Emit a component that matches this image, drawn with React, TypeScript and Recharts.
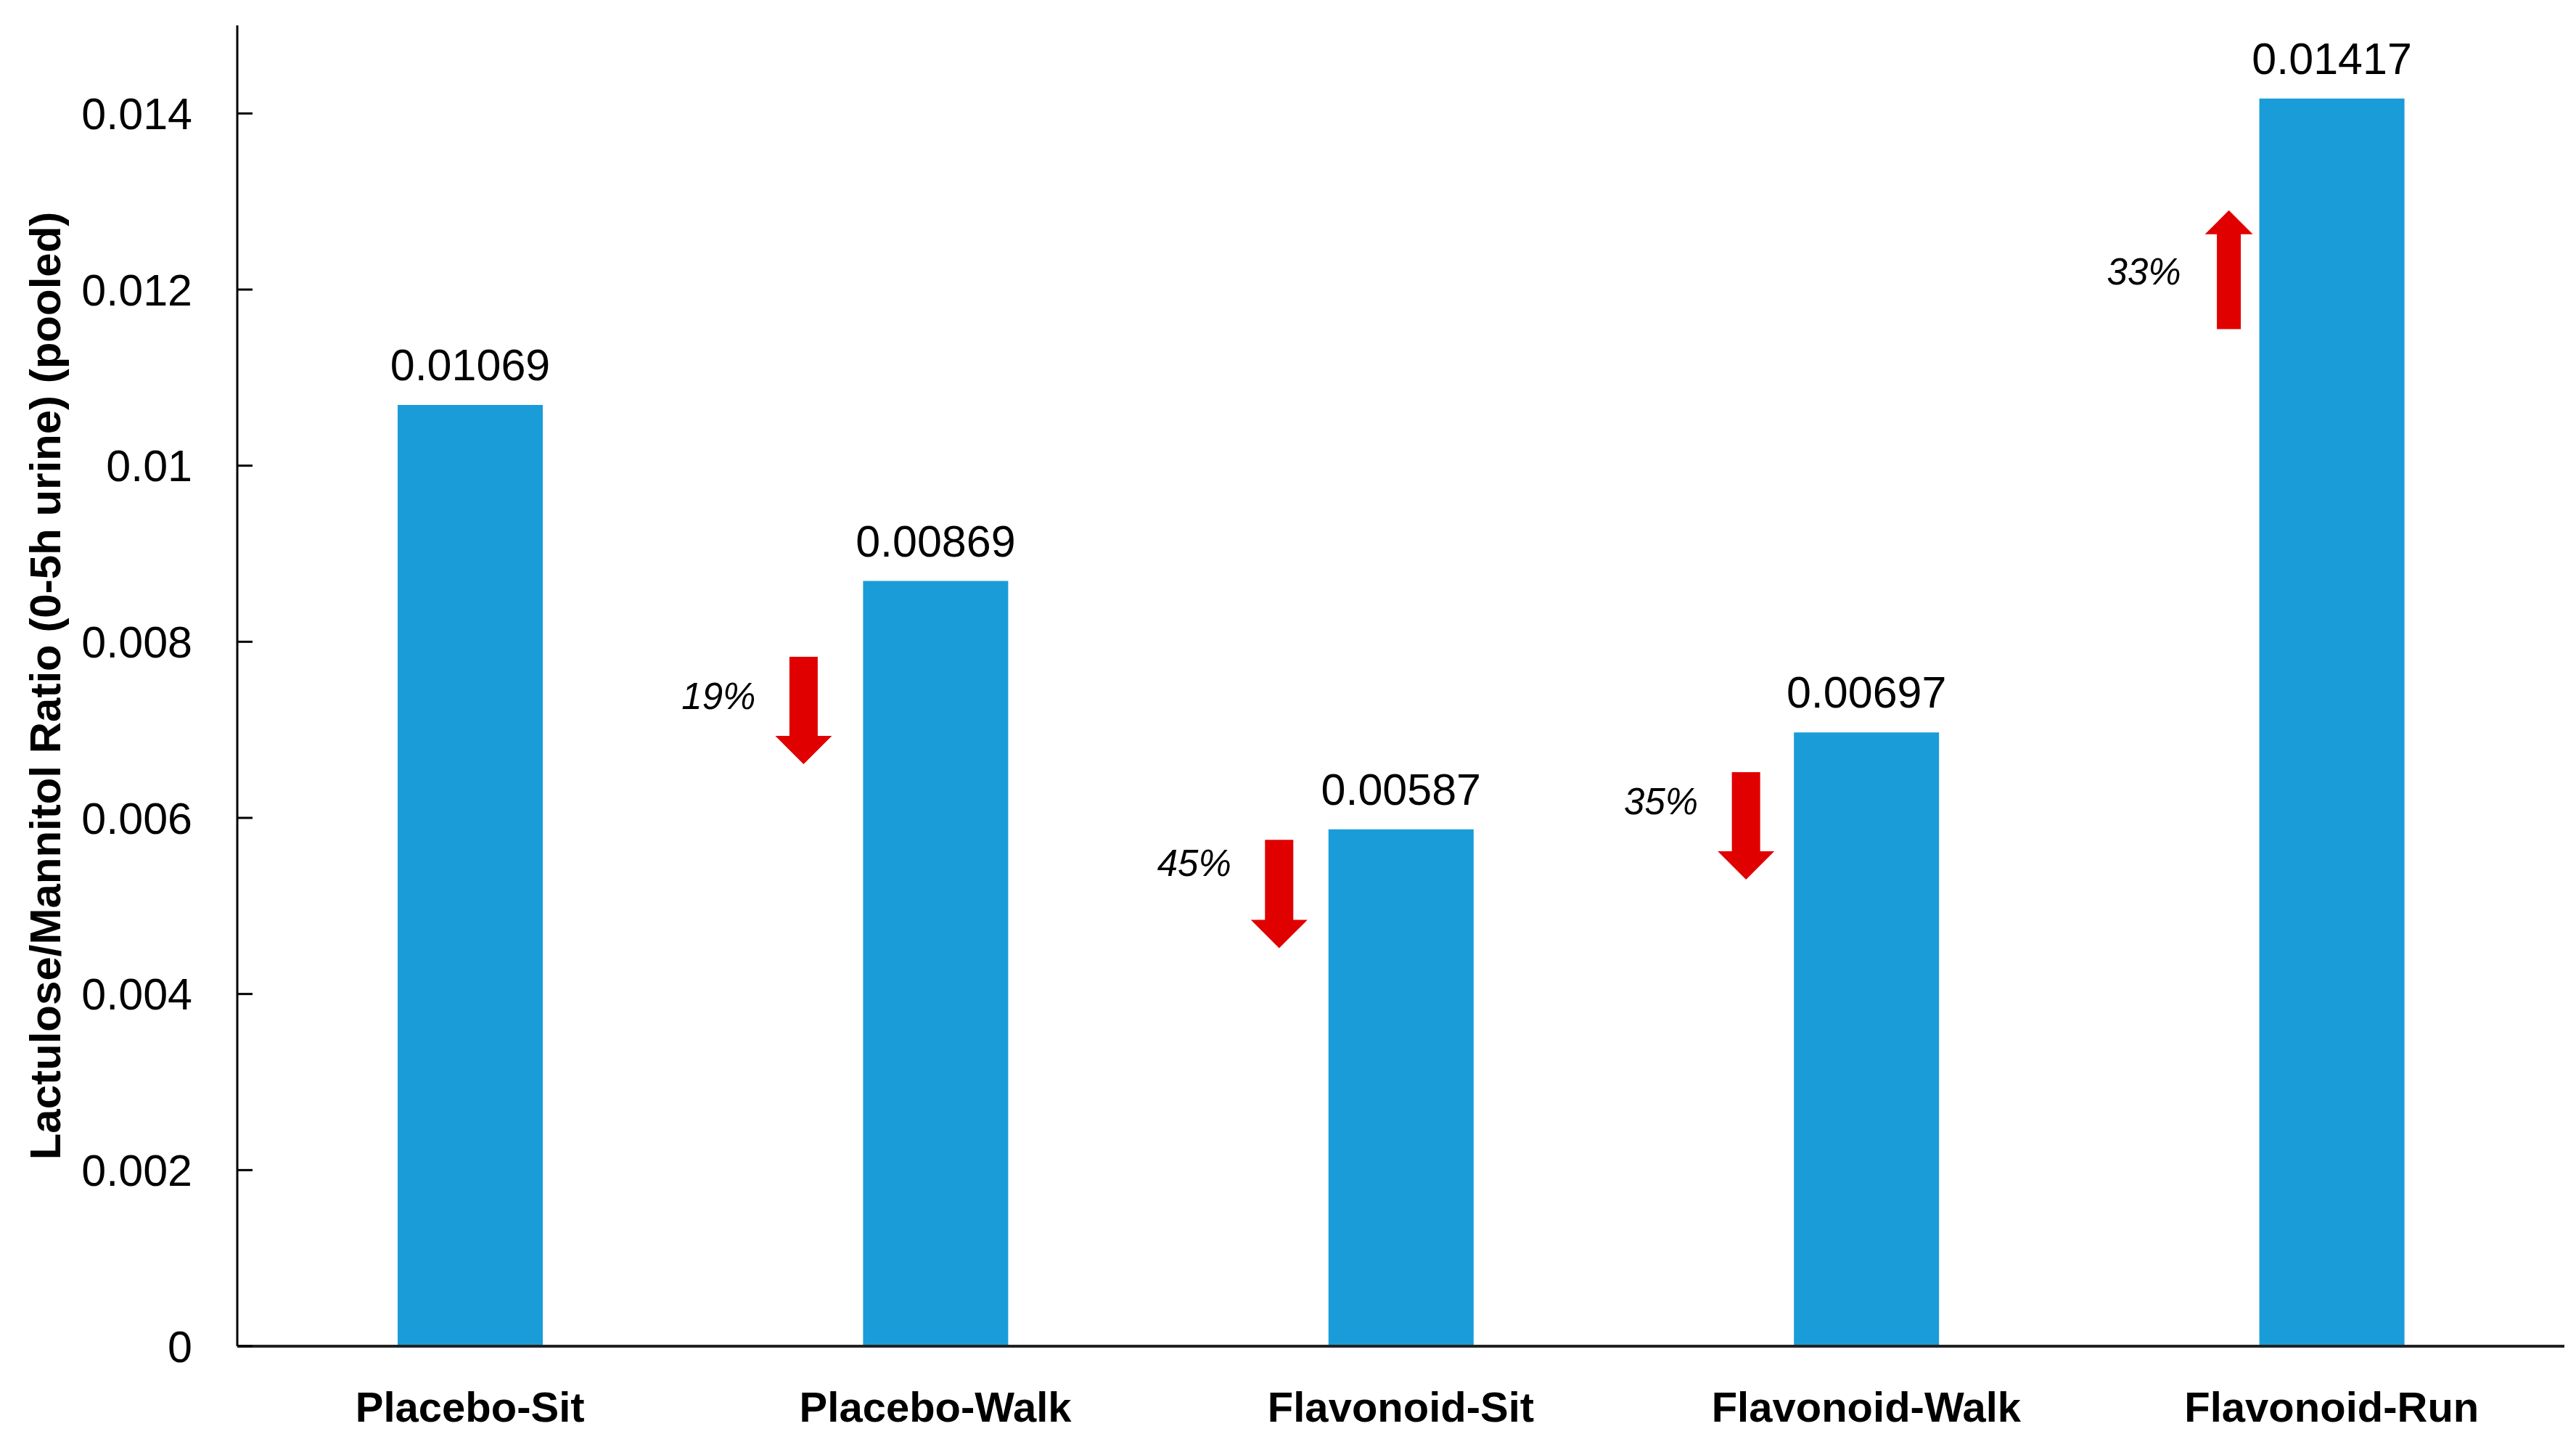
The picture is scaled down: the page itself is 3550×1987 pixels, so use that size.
import { BarChart, Bar, XAxis, YAxis, LabelList, Label } from "recharts"

const categories = ["Placebo-Sit", "Placebo-Walk", "Flavonoid-Sit", "Flavonoid-Walk", "Flavonoid-Run"]
const ratios = [0.01069, 0.00869, 0.00587, 0.00697, 0.01417]
const yTicks = [0, 0.002, 0.004, 0.006, 0.008, 0.01, 0.012, 0.014]

// change vs Placebo-Sit, drawn as red arrows next to the bars
const changeLabels = ["", "19%", "45%", "35%", "33%"]
const arrowTail = [null, 0.00783, 0.00575, 0.00652, 0.01155]
const arrowHead = [null, 0.00661, 0.00452, 0.0053, 0.0129]
const changeLabelAt = [null, 0.00724, 0.00534, 0.00604, 0.01206]

const data = categories.map((name, i) => ({ name, ratio: ratios[i] }))

const FONT = "'Liberation Sans', Arial, sans-serif"
const BLUE = "#1A9CD8"
const RED = "#E00000"
// gap between bar's left edge and the arrow centre
const ARROW_DX = [0, 82, 68, 66, 42]

function YTick(props: any) {
  const { x, y, payload } = props
  return (
    <g>
      <line x1={x + 62} x2={x + 83} y1={y} y2={y} stroke="#000" strokeWidth={3} />
      <text x={x} y={y} dy="0.355em" textAnchor="end" fontFamily={FONT} fontSize={61} fill="#000">
        {String(payload.value)}
      </text>
    </g>
  )
}

function ChangeArrow(props: any) {
  const vb = props.viewBox ?? props
  const { x, y, width, height } = vb
  const index = props.index
  const tail = arrowTail[index]
  const head = arrowHead[index]
  if (tail == null || head == null) return null
  const value = ratios[index]
  const base = y + height
  const toPx = (v: number) => base - (v * height) / value
  const yTail = toPx(tail)
  const yHead = toPx(head)
  const up = yHead < yTail
  const cx = x - ARROW_DX[index]
  const shaft = up ? 33 : 39
  const headW = up ? 66 : 78
  const headH = up ? 33 : 39
  const s = up ? -1 : 1
  const headBase = yHead - s * headH
  const pts = [
    [cx - shaft / 2, yTail],
    [cx + shaft / 2, yTail],
    [cx + shaft / 2, headBase],
    [cx + headW / 2, headBase],
    [cx, yHead],
    [cx - headW / 2, headBase],
    [cx - shaft / 2, headBase],
  ]
    .map((p) => p.join(","))
    .join(" ")
  return (
    <g>
      <polygon points={pts} fill={RED} />
      <text
        x={cx - 66}
        y={toPx(changeLabelAt[index] as number)}
        textAnchor="end"
        fontFamily={FONT}
        fontStyle="italic"
        fontSize={51}
        fill="#000"
      >
        {changeLabels[index]}
      </text>
    </g>
  )
}

export default function App() {
  return (
    <div style={{ width: 3550, height: 1987, background: "#fff" }}>
      <style>{"body{margin:0}"}</style>
      <BarChart
        width={3550}
        height={1987}
        data={data}
        margin={{ top: 35, right: 16, bottom: 0, left: 0 }}
        barCategoryGap="34%"
      >
        <XAxis
          dataKey="name"
          height={132}
          tickLine={false}
          tickSize={0}
          tickMargin={63}
          axisLine={{ stroke: "#222", strokeWidth: 4 }}
          tick={{ fontFamily: FONT, fontSize: 58, fontWeight: 700, fill: "#000" }}
        />
        <YAxis
          width={327}
          domain={[0, 0.015]}
          ticks={yTicks}
          interval={0}
          tickLine={false}
          tickSize={0}
          tickMargin={62}
          axisLine={{ stroke: "#000", strokeWidth: 3 }}
          tick={<YTick />}
        >
          <Label
            content={(p: any) => {
              const vb = p.viewBox
              const cx = 83
              const cy = vb.y + vb.height / 2
              return (
                <text
                  x={cx}
                  y={cy}
                  transform={`rotate(-90, ${cx}, ${cy})`}
                  textAnchor="middle"
                  fontFamily={FONT}
                  fontWeight={700}
                  fontSize={60}
                  fill="#000"
                >
                  Lactulose/Mannitol Ratio (0-5h urine) (pooled)
                </text>
              )
            }}
          />
        </YAxis>
        <Bar dataKey="ratio" fill={BLUE} barSize={200} isAnimationActive={false}>
          <LabelList
            dataKey="ratio"
            position="top"
            offset={34}
            formatter={(v: any) => Number(v).toFixed(5)}
            fontFamily={FONT}
            fontSize={61}
            fill="#000"
          />
          <LabelList dataKey="ratio" content={<ChangeArrow />} />
        </Bar>
      </BarChart>
    </div>
  )
}
